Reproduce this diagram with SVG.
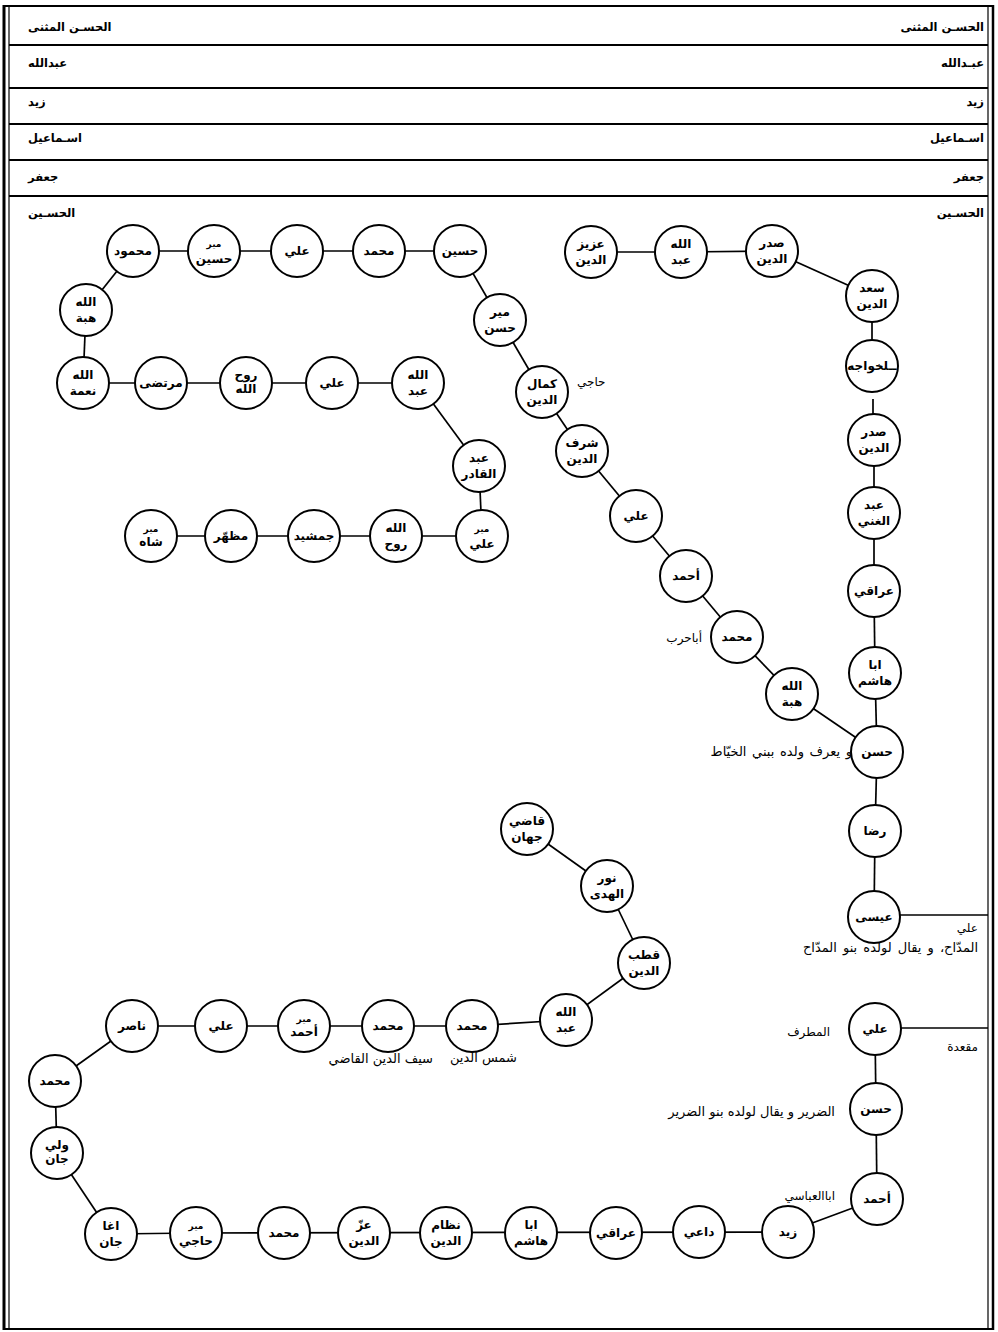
<svg xmlns="http://www.w3.org/2000/svg" width="998" height="1332" viewBox="0 0 998 1332">
<style>
text{font-family:"DejaVu Sans",sans-serif;fill:#000}
.frame line{stroke:#000}
.c line{stroke:#000;stroke-width:1.7}
.n circle{fill:#fff;stroke:#000;stroke-width:2}
.n text{font-weight:bold;font-size:12px;text-anchor:middle}
.n text.s{font-size:9px}
.row{font-weight:bold;font-size:11.5px}
.lbl{font-size:12px}
.lg{font-size:13px}
.e{text-anchor:end}
</style>
<rect width="998" height="1332" fill="#fff"/>
<g class="frame">
<line x1="4" y1="5" x2="4" y2="1330" stroke-width="3"/>
<line x1="9" y1="6" x2="9" y2="1329" stroke-width="1.2"/>
<line x1="988" y1="6" x2="988" y2="1329" stroke-width="1.2"/>
<line x1="993" y1="5" x2="993" y2="1330" stroke-width="2.5"/>
<line x1="4" y1="6" x2="993" y2="6" stroke-width="2"/>
<line x1="4" y1="1329" x2="993" y2="1329" stroke-width="2"/>
<line x1="9" y1="45" x2="988" y2="45" stroke-width="1.8"/>
<line x1="9" y1="88" x2="988" y2="88" stroke-width="1.8"/>
<line x1="9" y1="124" x2="988" y2="124" stroke-width="1.8"/>
<line x1="9" y1="160" x2="988" y2="160" stroke-width="1.8"/>
<line x1="9" y1="196" x2="988" y2="196" stroke-width="1.8"/>
</g>
<g id="rows">
<text class="row" x="28" y="31">الحسـن المثنى</text>
<text class="row e" x="984" y="31">الحسـن المثنى</text>
<text class="row" x="28" y="67">عبدالله</text>
<text class="row e" x="984" y="67">عبـدالله</text>
<text class="row" x="28" y="106">زيد</text>
<text class="row e" x="984" y="106">زيد</text>
<text class="row" x="28" y="142">اسـماعيل</text>
<text class="row e" x="984" y="142">اسـماعيل</text>
<text class="row" x="28" y="181">جعفر</text>
<text class="row e" x="984" y="181">جعفر</text>
<text class="row" x="28" y="217">الحسـين</text>
<text class="row e" x="984" y="217">الحسـين</text>
</g>
<g class="c" id="connectors">
<line x1="133" y1="251" x2="460" y2="251"/>
<line x1="460" y1="251" x2="500" y2="320"/>
<line x1="500" y1="320" x2="542" y2="392"/>
<line x1="542" y1="392" x2="582" y2="451"/>
<line x1="582" y1="451" x2="636" y2="516"/>
<line x1="636" y1="516" x2="686" y2="576"/>
<line x1="686" y1="576" x2="737" y2="637"/>
<line x1="737" y1="637" x2="792" y2="694"/>
<line x1="792" y1="694" x2="877" y2="752"/>
<line x1="133" y1="251" x2="86" y2="310"/>
<line x1="86" y1="310" x2="83" y2="383"/>
<line x1="83" y1="383" x2="161" y2="383" stroke-width="2.6"/>
<line x1="161" y1="383" x2="418" y2="383"/>
<line x1="418" y1="383" x2="479" y2="466"/>
<line x1="479" y1="466" x2="482" y2="536"/>
<line x1="151" y1="536" x2="482" y2="536"/>
<line x1="591" y1="252" x2="681" y2="252"/>
<line x1="681" y1="252" x2="772" y2="251"/>
<line x1="772" y1="251" x2="872" y2="296"/>
<line x1="872" y1="296" x2="872" y2="366"/>
<line x1="873" y1="399" x2="873" y2="416"/>
<line x1="874" y1="440" x2="874" y2="513"/>
<line x1="874" y1="513" x2="874" y2="591"/>
<line x1="874" y1="591" x2="875" y2="673"/>
<line x1="875" y1="673" x2="877" y2="752"/>
<line x1="877" y1="752" x2="875" y2="831"/>
<line x1="875" y1="831" x2="874" y2="917"/>
<line x1="874" y1="915" x2="988" y2="915"/>
<line x1="875" y1="1028" x2="988" y2="1028"/>
<line x1="875" y1="1029" x2="876" y2="1109"/>
<line x1="876" y1="1109" x2="877" y2="1199"/>
<line x1="877" y1="1199" x2="788" y2="1232"/>
<line x1="788" y1="1232" x2="196" y2="1233"/>
<line x1="196" y1="1233" x2="111" y2="1234" stroke-width="2.6"/>
<line x1="111" y1="1234" x2="57" y2="1153"/>
<line x1="57" y1="1153" x2="55" y2="1081"/>
<line x1="55" y1="1081" x2="132" y2="1026"/>
<line x1="132" y1="1026" x2="472" y2="1026"/>
<line x1="472" y1="1026" x2="566" y2="1020"/>
<line x1="566" y1="1020" x2="644" y2="963"/>
<line x1="644" y1="963" x2="607" y2="886"/>
<line x1="607" y1="886" x2="527" y2="829"/>
</g>
<g id="n01" class="n"><circle cx="460" cy="251" r="26"/><text x="460" y="255">حسين</text></g>
<g id="n02" class="n"><circle cx="379" cy="251" r="26"/><text x="379" y="255">محمد</text></g>
<g id="n03" class="n"><circle cx="297" cy="251" r="26"/><text x="297" y="255">علي</text></g>
<g id="n04" class="n"><circle cx="214" cy="251" r="26"/><text class="s" x="214" y="247">مير</text><text x="214" y="263">حسين</text></g>
<g id="n05" class="n"><circle cx="133" cy="251" r="26"/><text x="133" y="255">محمود</text></g>
<g id="n06" class="n"><circle cx="86" cy="310" r="26"/><text x="86" y="306">الله</text><text x="86" y="322">هبة</text></g>
<g id="n07" class="n"><circle cx="83" cy="383" r="26"/><text x="83" y="379">الله</text><text x="83" y="395">نعمة</text></g>
<g id="n08" class="n"><circle cx="161" cy="383" r="26"/><text x="161" y="387">مرتضى</text></g>
<g id="n09" class="n"><circle cx="246" cy="383" r="26"/><text x="246" y="379">روح</text><text x="246" y="393">الله</text></g>
<g id="n10" class="n"><circle cx="332" cy="383" r="26"/><text x="332" y="387">علي</text></g>
<g id="n11" class="n"><circle cx="418" cy="383" r="26"/><text x="418" y="379">الله</text><text x="418" y="395">عبد</text></g>
<g id="n12" class="n"><circle cx="479" cy="466" r="26"/><text x="479" y="462">عبد</text><text x="479" y="478">القادر</text></g>
<g id="n13" class="n"><circle cx="482" cy="536" r="26"/><text class="s" x="482" y="532">مير</text><text x="482" y="548">علي</text></g>
<g id="n14" class="n"><circle cx="396" cy="536" r="26"/><text x="396" y="532">الله</text><text x="396" y="548">روح</text></g>
<g id="n15" class="n"><circle cx="314" cy="536" r="26"/><text x="314" y="540">جمشيد</text></g>
<g id="n16" class="n"><circle cx="231" cy="536" r="26"/><text x="231" y="540">مظهّر</text></g>
<g id="n17" class="n"><circle cx="151" cy="536" r="26"/><text class="s" x="151" y="532">مير</text><text x="151" y="546">شاه</text></g>
<g id="n18" class="n"><circle cx="500" cy="320" r="26"/><text x="500" y="316">مير</text><text x="500" y="332">حسن</text></g>
<g id="n19" class="n"><circle cx="542" cy="392" r="26"/><text x="542" y="388">كمال</text><text x="542" y="404">الدين</text></g>
<g id="n20" class="n"><circle cx="582" cy="451" r="26"/><text x="582" y="447">شرف</text><text x="582" y="463">الدين</text></g>
<g id="n21" class="n"><circle cx="636" cy="516" r="26"/><text x="636" y="520">علي</text></g>
<g id="n22" class="n"><circle cx="686" cy="576" r="26"/><text x="686" y="580">أحمد</text></g>
<g id="n23" class="n"><circle cx="737" cy="637" r="26"/><text x="737" y="641">محمد</text></g>
<g id="n24" class="n"><circle cx="792" cy="694" r="26"/><text x="792" y="690">الله</text><text x="792" y="706">هبة</text></g>
<g id="n25" class="n"><circle cx="877" cy="752" r="26"/><text x="877" y="756">حسن</text></g>
<g id="n26" class="n"><circle cx="591" cy="252" r="26"/><text x="591" y="248">عزيز</text><text x="591" y="264">الدين</text></g>
<g id="n27" class="n"><circle cx="681" cy="252" r="26"/><text x="681" y="248">الله</text><text x="681" y="264">عبد</text></g>
<g id="n28" class="n"><circle cx="772" cy="251" r="26"/><text x="772" y="247">صدر</text><text x="772" y="263">الدين</text></g>
<g id="n29" class="n"><circle cx="872" cy="296" r="26"/><text x="872" y="292">سعد</text><text x="872" y="308">الدين</text></g>
<g id="n30" class="n"><circle cx="872" cy="366" r="26"/><text x="872" y="370">ــلخواجه</text></g>
<g id="n31" class="n"><circle cx="874" cy="440" r="26"/><text x="874" y="436">صدر</text><text x="874" y="452">الدين</text></g>
<g id="n32" class="n"><circle cx="874" cy="513" r="26"/><text x="874" y="509">عبد</text><text x="874" y="525">الغني</text></g>
<g id="n33" class="n"><circle cx="874" cy="591" r="26"/><text x="874" y="595">عراقي</text></g>
<g id="n34" class="n"><circle cx="875" cy="673" r="26"/><text x="875" y="669">ابا</text><text x="875" y="685">هاشم</text></g>
<g id="n35" class="n"><circle cx="875" cy="831" r="26"/><text x="875" y="835">رضا</text></g>
<g id="n36" class="n"><circle cx="874" cy="917" r="26"/><text x="874" y="921">عيسى</text></g>
<g id="n37" class="n"><circle cx="875" cy="1029" r="26"/><text x="875" y="1033">علي</text></g>
<g id="n38" class="n"><circle cx="876" cy="1109" r="26"/><text x="876" y="1113">حسن</text></g>
<g id="n39" class="n"><circle cx="877" cy="1199" r="26"/><text x="877" y="1203">أحمد</text></g>
<g id="n40" class="n"><circle cx="788" cy="1232" r="26"/><text x="788" y="1236">زيد</text></g>
<g id="n41" class="n"><circle cx="699" cy="1232" r="26"/><text x="699" y="1236">داعي</text></g>
<g id="n42" class="n"><circle cx="616" cy="1233" r="26"/><text x="616" y="1237">عراقي</text></g>
<g id="n43" class="n"><circle cx="531" cy="1233" r="26"/><text x="531" y="1229">ابا</text><text x="531" y="1245">هاشم</text></g>
<g id="n44" class="n"><circle cx="446" cy="1233" r="26"/><text x="446" y="1229">نظام</text><text x="446" y="1245">الدين</text></g>
<g id="n45" class="n"><circle cx="364" cy="1233" r="26"/><text x="364" y="1229">عزّ</text><text x="364" y="1245">الدين</text></g>
<g id="n46" class="n"><circle cx="284" cy="1233" r="26"/><text x="284" y="1237">محمد</text></g>
<g id="n47" class="n"><circle cx="196" cy="1233" r="26"/><text class="s" x="196" y="1229">مير</text><text x="196" y="1245">حاجي</text></g>
<g id="n48" class="n"><circle cx="111" cy="1234" r="26"/><text x="111" y="1230">اغا</text><text x="111" y="1246">جان</text></g>
<g id="n49" class="n"><circle cx="57" cy="1153" r="26"/><text x="57" y="1149">ولي</text><text x="57" y="1163">جان</text></g>
<g id="n50" class="n"><circle cx="55" cy="1081" r="26"/><text x="55" y="1085">محمد</text></g>
<g id="n51" class="n"><circle cx="132" cy="1026" r="26"/><text x="132" y="1030">ناصر</text></g>
<g id="n52" class="n"><circle cx="221" cy="1026" r="26"/><text x="221" y="1030">علي</text></g>
<g id="n53" class="n"><circle cx="304" cy="1026" r="26"/><text class="s" x="304" y="1022">مير</text><text x="304" y="1036">أحمد</text></g>
<g id="n54" class="n"><circle cx="388" cy="1026" r="26"/><text x="388" y="1030">محمد</text></g>
<g id="n55" class="n"><circle cx="472" cy="1026" r="26"/><text x="472" y="1030">محمد</text></g>
<g id="n56" class="n"><circle cx="566" cy="1020" r="26"/><text x="566" y="1016">الله</text><text x="566" y="1032">عبد</text></g>
<g id="n57" class="n"><circle cx="644" cy="963" r="26"/><text x="644" y="959">قطب</text><text x="644" y="975">الدين</text></g>
<g id="n58" class="n"><circle cx="607" cy="886" r="26"/><text x="607" y="882">نور</text><text x="607" y="898">الهدى</text></g>
<g id="n59" class="n"><circle cx="527" cy="829" r="26"/><text x="527" y="825">قاضي</text><text x="527" y="841">جهان</text></g>
<g id="labels">
<text class="lbl" x="577" y="386">حاجي</text>
<text class="lbl e" x="702" y="642">أباحرب</text>
<text class="lg e" x="852" y="756" word-spacing="1.5">و يعرف ولده ببني الخيّاط</text>
<text class="lbl e" x="978" y="932">علي</text>
<text class="lg e" x="978" y="952" word-spacing="2">المدّاح، و يقال لولده بنو المدّاح</text>
<text class="lbl e" x="830" y="1036">المطرف</text>
<text class="lbl e" x="978" y="1051">مقعدة</text>
<text class="lg e" x="835" y="1116">الضرير و يقال لولده بنو الضرير</text>
<text class="lbl e" x="835" y="1200">اباالعباسي</text>
<text class="lg e" x="517" y="1062">شمس الدين</text>
<text class="lg e" x="433" y="1063">سيف الدين القاضي</text>
</g>
</svg>
